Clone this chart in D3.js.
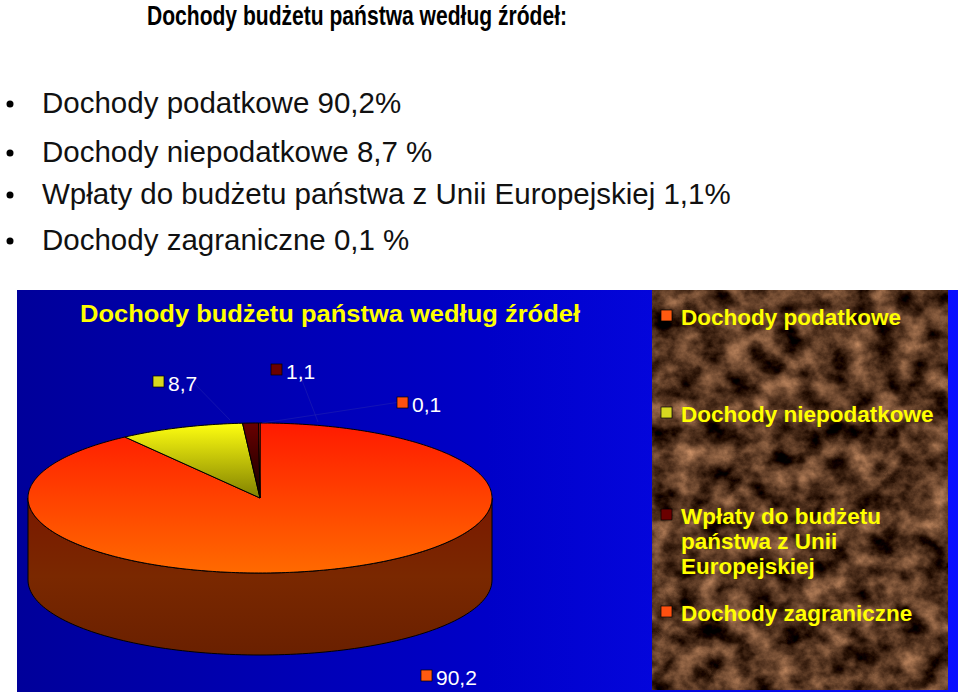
<!DOCTYPE html><html><head><meta charset="utf-8"><script src="https://cdn.jsdelivr.net/npm/d3@7"></script>
<style>body{margin:0;background:#fff}svg{display:block}</style></head><body><svg id="c" width="960" height="694"></svg>
<script>
const categories=["Dochody podatkowe","Dochody niepodatkowe","Wpłaty do budżetu państwa z Unii Europejskiej","Dochody zagraniczne"];
const values=[90.2,8.7,1.1,0.1];
const labels=["90,2","8,7","1,1","0,1"];
const bulletTexts=["Dochody podatkowe 90,2%","Dochody niepodatkowe 8,7 %","Wpłaty do budżetu państwa z Unii Europejskiej 1,1%","Dochody zagraniczne 0,1 %"];
const legendLines=[["Dochody podatkowe"],["Dochody niepodatkowe"],["Wpłaty do budżetu","państwa z Unii","Europejskiej"],["Dochody zagraniczne"]];

const svg=d3.select("#c");
const defs=svg.append("defs");
function lg(id,stops,x2,y2){const g=defs.append("linearGradient").attr("id",id).attr("x1",0).attr("y1",0).attr("x2",x2).attr("y2",y2);
stops.forEach((s,i)=>g.append("stop").attr("offset",i/(stops.length-1)).attr("stop-color",s));}
lg("bg",["#00009a","#0000c8","#0a10ff"],1,0);
lg("g0",["#ff1a00","#ff6a00"],0,1);
lg("g1",["#ffff10","#808000"],0,1);
lg("g2",["#6a0000","#100000"],0,1);
lg("g3",["#ff2000","#ff7000"],0,1);
lg("side",["#7a1800","#7a2800","#6a2000"],0,1);
const fills=["url(#g0)","url(#g1)","url(#g2)","url(#g3)"];
const boxFills=["#ff5a10","#d8d820","#6a0000","#ff5010"];
const f=defs.append("filter").attr("id","marble").attr("x",0).attr("y",0).attr("width",1).attr("height",1).attr("color-interpolation-filters","sRGB");
f.append("feTurbulence").attr("type","fractalNoise").attr("baseFrequency","0.04 0.045").attr("numOctaves",5).attr("seed",7);
f.append("feColorMatrix").attr("values","1.1 0 0 0 -0.22  0.85 0 0 0 -0.22  0.65 0 0 0 -0.2  0 0 0 0 1");

const font="Liberation Sans, Arial, sans-serif";
svg.append("text").attr("x",147).attr("y",25).attr("textLength",420).attr("lengthAdjust","spacingAndGlyphs").attr("font-family",font).attr("font-weight","bold").attr("font-size",28).text("Dochody budżetu państwa według źródeł:");
const by=[113,162,204,250];
bulletTexts.forEach((t,i)=>{svg.append("circle").attr("cx",10).attr("cy",by[i]-9).attr("r",3.5).attr("fill","#000");
svg.append("text").attr("x",42).attr("y",by[i]).attr("font-family",font).attr("font-size",29.5).attr("fill","#111").text(t);});

svg.append("rect").attr("x",17).attr("y",290).attr("width",941).attr("height",402).attr("fill","url(#bg)");
svg.append("rect").attr("x",652).attr("y",290).attr("width",296).attr("height",400).attr("fill","#5a3820").attr("filter","url(#marble)");
svg.append("text").attr("x",80).attr("y",322).attr("textLength",500).attr("lengthAdjust","spacingAndGlyphs").attr("font-family",font).attr("font-weight","bold").attr("font-size",24).attr("fill","#ffff00").text("Dochody budżetu państwa według źródeł");

const cx=260,cy=498,rx=232,ry=75,depth=82;
const pie=d3.pie().sort(null).value(d=>d)(values);
const pt=(a,dy=0)=>[cx+rx*Math.sin(a),cy-ry*Math.cos(a)+dy];
function slicePath(a0,a1){const n=Math.max(4,Math.ceil((a1-a0)*60));const p=d3.path();p.moveTo(cx,cy);
for(let i=0;i<=n;i++){const q=pt(a0+(a1-a0)*i/n);p.lineTo(q[0],q[1]);}p.closePath();return p.toString();}
{const p=d3.path();const n=120;const a0=Math.PI/2,a1=3*Math.PI/2;
for(let i=0;i<=n;i++){const q=pt(a0+(a1-a0)*i/n);i?p.lineTo(q[0],q[1]):p.moveTo(q[0],q[1]);}
for(let i=n;i>=0;i--){const q=pt(a0+(a1-a0)*i/n,depth);p.lineTo(q[0],q[1]);}p.closePath();
svg.append("path").attr("d",p.toString()).attr("fill","url(#side)").attr("stroke","#000").attr("stroke-width",1);}
svg.selectAll(".sl").data(pie).join("path").attr("d",d=>slicePath(d.startAngle,d.endAngle)).attr("fill",(d,i)=>fills[i]).attr("stroke","#000").attr("stroke-width",1);

const labPos=[[428,676],[160,382],[278,370],[404,403]];
const lead=[null,[[190,379],[230,420]],[[300,375],[318,422]],[[400,402],[262,423]]];
labPos.forEach((p,i)=>{
  if(lead[i])svg.append("line").attr("x1",lead[i][0][0]).attr("y1",lead[i][0][1]).attr("x2",lead[i][1][0]).attr("y2",lead[i][1][1]).attr("stroke","#2020b0").attr("stroke-width",0.6);
  svg.append("rect").attr("x",p[0]-7).attr("y",p[1]-6).attr("width",11).attr("height",11).attr("fill",boxFills[i]).attr("stroke","#000").attr("stroke-width",0.7);
  svg.append("text").attr("x",p[0]+8).attr("y",p[1]+9).attr("font-family",font).attr("font-size",21).attr("fill","#fff").text(labels[i]);
});

const ly=[317,414,516,613];
legendLines.forEach((ls,i)=>{
  svg.append("rect").attr("x",661).attr("y",ly[i]-7).attr("width",11).attr("height",11).attr("fill",boxFills[i]).attr("stroke","#000").attr("stroke-width",0.7);
  ls.forEach((t,j)=>svg.append("text").attr("x",681).attr("y",ly[i]+8+j*25).attr("font-family",font).attr("font-weight","bold").attr("font-size",22.5).attr("fill","#ffff00").text(t));
});
</script></body></html>
